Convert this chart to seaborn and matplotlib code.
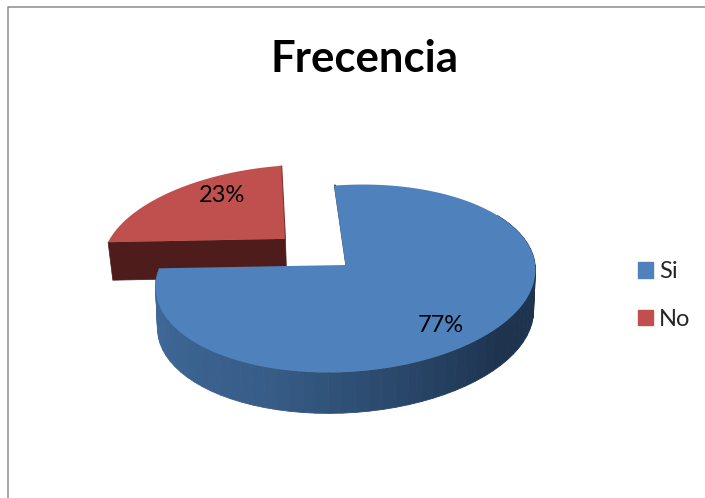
import numpy as np
import matplotlib
matplotlib.use('Agg')
import matplotlib.pyplot as plt
from matplotlib.patches import Patch, Polygon
import seaborn as sns

# data
categories = ['Si', 'No']
values = [77, 23]
title = 'Frecencia'

sns.set_theme(style='white')
plt.rcParams['font.family'] = ['Lato', 'DejaVu Sans']

blue, red = sns.color_palette(['#4f81bd', '#c0504d'])
blue_wall = sns.blend_palette(['#416c9c', '#375d88', '#1d334e', '#1d334e'], 60)
red_wall = '#4d1c1b'

# fake 3d pie: a disc seen in perspective
CX, CY, R, RK, P = 345.5, 265, 188, 91.6, 0.144
SHEAR, DEPTH, LOW = 0.045, 41, 0.99
RED_DEPTH, RED_LOW = 38, 0.98
START = -4
EXPLODE = 0.47


def project(theta, r=1.0, off=(0, 0), depth=0, low=1.0):
    # theta in degrees, clockwise from the top of the disc
    t = np.radians(theta)
    X = r * np.sin(t) + off[0]
    Y = r * np.cos(t) + off[1]
    s = 1 / (1 + P * Y)
    px = R * X * s
    py = -RK * Y * s - SHEAR * px
    return CX + px * low, CY + py + depth


fig = plt.figure(figsize=(7.05, 4.98), dpi=100)
ax = fig.add_axes([0, 0, 1, 1])
ax.set_xlim(0, 705)
ax.set_ylim(498, 0)
ax.axis('off')

# chart border, only top and left are inside the crop
ax.plot([8, 8, 705], [498, 6.5, 6.5], color='#8c8c8c', lw=1.1)

sweeps = np.array(values) / sum(values) * 360
blue_end = START + sweeps[0]
red_end = blue_end + sweeps[1]
mid = np.radians((blue_end + red_end) / 2)
off = (EXPLODE * np.sin(mid), EXPLODE * np.cos(mid))

# exploded slice, cut face first
red_angles = np.linspace(blue_end, red_end, 60)
apex_top = project(0, 0, off)
apex_low = project(0, 0, off, RED_DEPTH, RED_LOW)
left_top = project(blue_end, 1, off)
left_low = project(blue_end, 1, off, RED_DEPTH, RED_LOW)
ax.add_patch(Polygon([left_top, apex_top, apex_low, left_low], color=red_wall, lw=0.5))
rim = [project(a, 1, off) for a in red_angles]
ax.add_patch(Polygon([apex_top] + rim, color=red, lw=0))
ax.plot(*zip(apex_top, rim[-1]), color='#7d3432', lw=0.8, zorder=1.5)

# blue wall, shaded from left to right
wall_angles = np.linspace(blue_end, 60, 61)
for i in range(60):
    a0, a1 = wall_angles[i], wall_angles[i + 1]
    quad = [project(a0), project(a1), project(a1, depth=DEPTH, low=LOW), project(a0, depth=DEPTH, low=LOW)]
    ax.add_patch(Polygon(quad, fc=blue_wall[i], ec=blue_wall[i], lw=0.6, zorder=2))

# blue top
centre = project(0, 0)
edge = project(START)
ax.plot([centre[0] + 1, edge[0] + 1], [centre[1], edge[1]], color='#1d334e', lw=1.6, zorder=2)
blue_angles = np.linspace(START, blue_end, 200)
ax.add_patch(Polygon([centre] + [project(a) for a in blue_angles], color=blue, lw=0, zorder=3))

# labels
ax.text(222, 195, f'{values[1]}%', ha='center', va='center', fontsize=17, color='black', zorder=4)
ax.text(441, 325, f'{values[0]}%', ha='center', va='center', fontsize=17, color='black', zorder=4)
ax.text(364, 59, title, ha='center', va='center', fontsize=31.5, fontweight='bold', color='black')

handles = [Patch(color=c, label=n) for c, n in zip([blue, red], categories)]
ax.legend(handles=handles, loc='center left', bbox_to_anchor=(638 / 705, 1 - 295.5 / 498),
          frameon=False, fontsize=17, handlelength=0.635, handleheight=0.635,
          handletextpad=0.25, labelspacing=1.12, borderpad=0, borderaxespad=0)

fig.savefig('out.png', dpi=100)
